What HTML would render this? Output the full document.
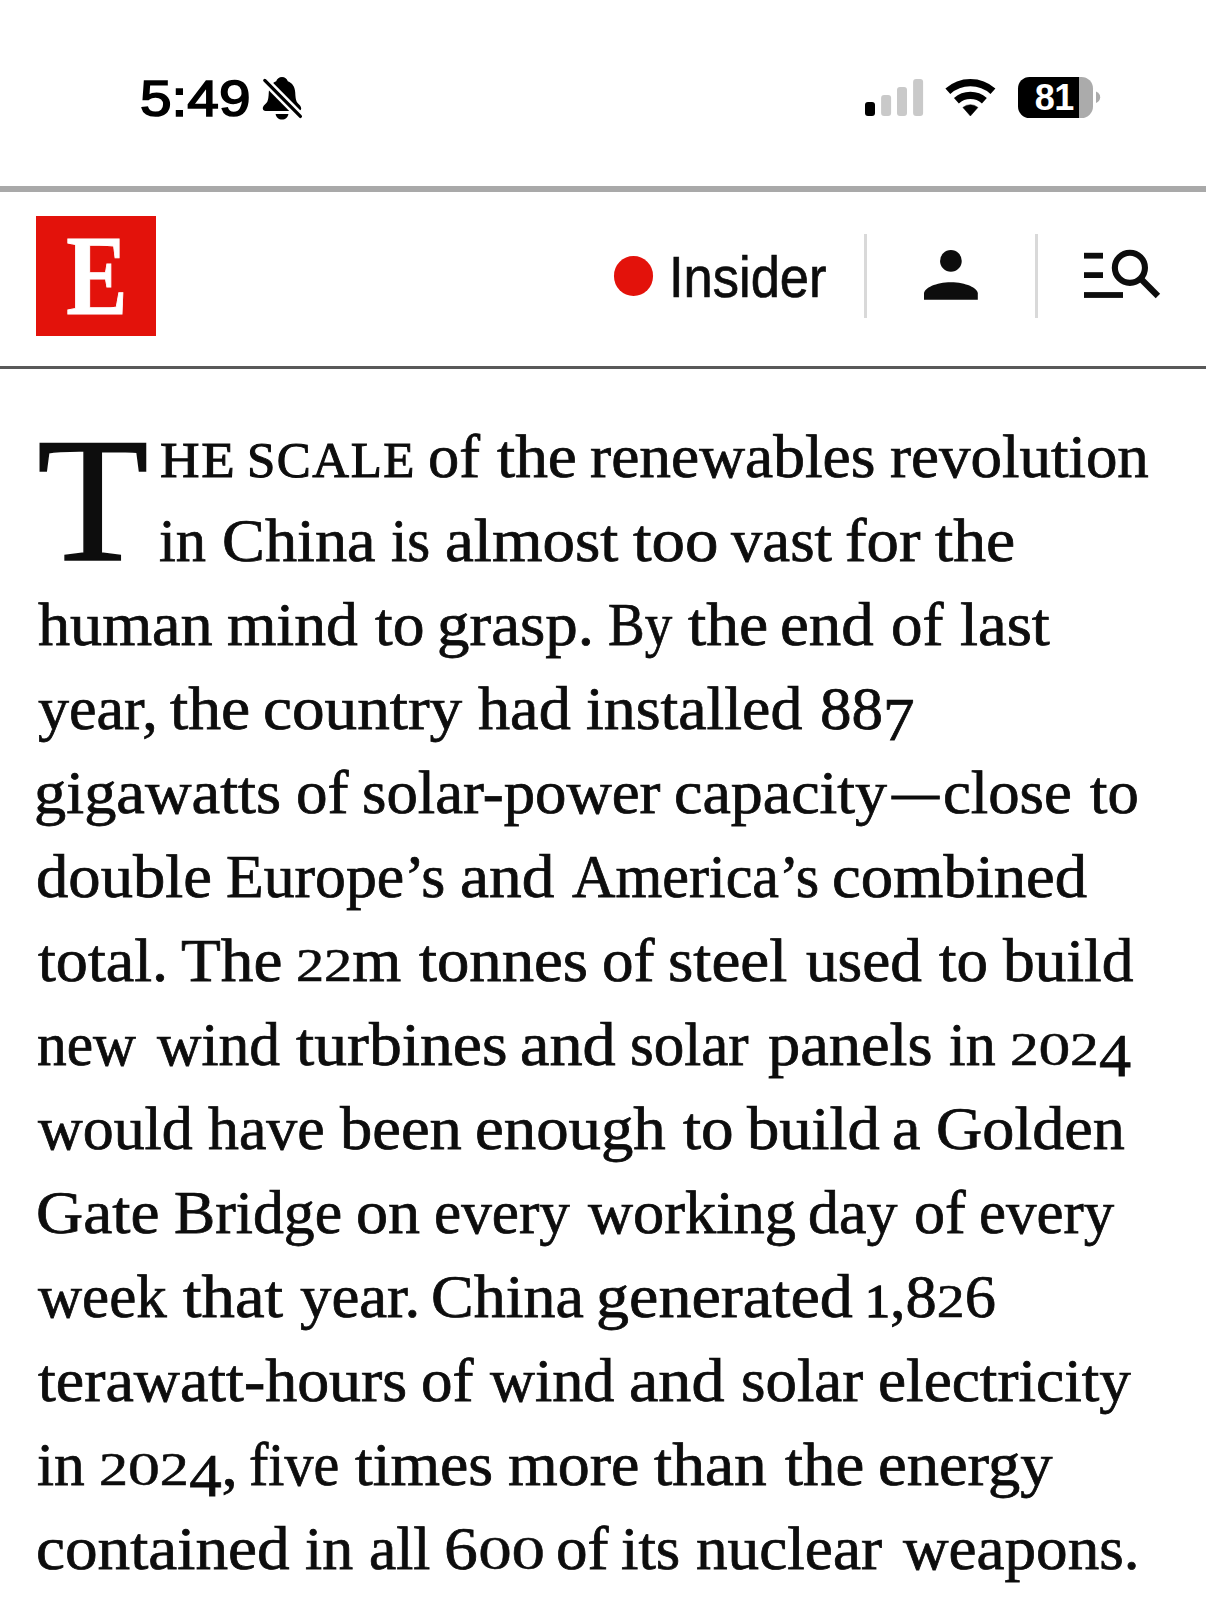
<!DOCTYPE html>
<html lang="en">
<head>
<meta charset="utf-8">
<meta name="viewport" content="width=1206">
<title>The Economist</title>
<style>
html,body{margin:0;padding:0;background:#fff;}
html{width:1206px;height:1604px;overflow:hidden;}
body{width:1206px;height:1604px;position:relative;overflow:hidden;font-family:"Liberation Sans",sans-serif;color:#0d0d0d;}
.abs{position:absolute;}
.time{position:absolute;left:139.5px;top:69px;font:49.6px/60px "Liberation Sans",sans-serif;color:#000;white-space:nowrap;transform-origin:0 50%;transform:scaleX(1.145);letter-spacing:0px;-webkit-text-stroke:1.6px #000;}
.rule1{position:absolute;left:0;top:186px;width:1206px;height:5.5px;background:#a9a9a9;}
.rule2{position:absolute;left:0;top:366px;width:1206px;height:3px;background:#595959;}
.logo{position:absolute;left:36px;top:216px;width:120px;height:120px;background:#e3120b;overflow:hidden;}
.logo span{position:absolute;left:0.8px;top:-0.3px;width:120px;height:120px;text-align:center;font:bold 115px/120px "Liberation Serif",serif;color:#fff;transform:scaleX(0.80);-webkit-text-stroke:1px #fff;transform-origin:50% 50%;}
.dot{position:absolute;left:614px;top:256.3px;width:39.4px;height:39.4px;border-radius:50%;background:#e3120b;}
.insider{position:absolute;left:668.5px;top:241.5px;font:58px/70px "Liberation Sans",sans-serif;color:#0d0d0d;white-space:nowrap;transform-origin:0 50%;transform:scaleX(0.905);-webkit-text-stroke:0.7px #0d0d0d;}
.vr{position:absolute;top:234px;width:3px;height:84px;background:#d9d9d9;}
.ln{position:absolute;left:0;width:1206px;height:80px;font:61px/80px "Liberation Serif",serif;color:#0d0d0d;white-space:pre;-webkit-text-stroke:0.75px #0d0d0d;}
.w{position:absolute;top:0;left:0;transform-origin:0 50%;white-space:pre;}
.o0{display:inline-block;font-size:46.5px;line-height:1;transform:scaleX(1.17);transform-origin:0 50%;margin-right:3.95px;-webkit-text-stroke:0.6px #0d0d0d;}
.o0.d0{transform:scaleX(1.3);margin-right:6.97px;-webkit-text-stroke:0.4px #0d0d0d;}
.o0.d1{transform:scaleX(1.05);margin-right:1.2px;-webkit-text-stroke:1.4px #0d0d0d;}
.o1{position:relative;top:11px;}
.w.nd{top:-1.3px;-webkit-text-stroke:1px #0d0d0d;}
.ln .sc{font-size:51px;top:3.4px;letter-spacing:1.5px;-webkit-text-stroke:1px #0d0d0d;}
.ln .drop{position:absolute;left:37.4px;top:-17.4px;font:178.6px/200px "Liberation Serif",serif;color:#0d0d0d;transform-origin:0 50%;-webkit-text-stroke:1.5px #0d0d0d;transform:scaleX(1.022);}
.batt{position:absolute;left:1018px;top:77px;width:75px;height:41px;border-radius:11.5px;background:linear-gradient(90deg,#000 0,#000 61px,#ababab 61px,#ababab 100%);}
.batt span{position:absolute;left:0;top:0.3px;width:55.8px;text-align:right;font:bold 36px/41px "Liberation Sans",sans-serif;color:#fff;letter-spacing:-0.5px;}
</style>
</head>
<body>
<!-- status bar -->
<div class="time">5:49</div>
<svg class="abs" style="left:255px;top:70px" width="56" height="56" viewBox="255 70 56 56">
  <path d="M282 76.9c-2.8 0-5 1.800-5.800 4.400c-4.600 1.800-7.100 5.600-7.400 11c-.2 4.200-.5 7.600-1.600 9.600c-.9 1.600-4.400 3.600-4.400 6.500c0 1.600 1.200 2.500 2.900 2.500h32.600c1.700 0 2.900-.9 2.900-2.500c0-2.900-3.500-4.900-4.400-6.500c-1.100-2-1.400-5.400-1.600-9.600c-.3-5.400-2.800-9.200-7.400-11c-.8-2.600-3-4.400-5.800-4.400z" fill="#000"/>
  <path d="M275.600 114h12.800c-.5 3.200-3 5.600-6.400 5.600s-5.900-2.400-6.400-5.600z" fill="#000"/>
  <line x1="264.8" y1="80.400" x2="300.400" y2="116.400" stroke="#fff" stroke-width="8.400" stroke-linecap="butt"/>
  <line x1="264.8" y1="80.400" x2="300.400" y2="116.400" stroke="#000" stroke-width="3.300" stroke-linecap="round"/>
</svg>
<svg class="abs" style="left:860px;top:70px" width="140" height="56" viewBox="860 70 140 56">
  <rect x="865" y="102.100" width="10" height="13.900" rx="3" fill="#000"/>
  <rect x="881.100" y="95.100" width="10" height="20.900" rx="3" fill="#c9c9c9"/>
  <rect x="897" y="87.100" width="10" height="28.900" rx="3" fill="#c9c9c9"/>
  <rect x="913.100" y="78.900" width="10" height="37.100" rx="3" fill="#c9c9c9"/>
  <g fill="none" stroke="#000" stroke-width="7.300">
    <path d="M947.850 91.260A33.700 33.700 0 0 1 992.950 91.260"/>
    <path d="M956.420 100.770A20.900 20.900 0 0 1 984.380 100.770"/>
  </g>
  <path d="M970.400 116L962.900 107.400A11.750 11.750 0 0 1 977.900 107.400Z" fill="#000" stroke="#000" stroke-width="0.500" stroke-linejoin="round"/>
</svg>
<div class="batt"><span>81</span></div>
<svg class="abs" style="left:1094px;top:88px" width="10" height="20" viewBox="1094 88 10 20">
  <path d="M1096 91.500c2.600 1 4.200 3.100 4.200 5.700s-1.600 4.700-4.200 5.700z" fill="#ababab"/>
</svg>

<!-- header -->
<div class="rule1"></div>
<div class="logo"><span>E</span></div>
<div class="dot"></div>
<div class="insider">Insider</div>
<div class="vr" style="left:864px"></div>
<svg class="abs" style="left:915px;top:245px" width="70" height="60" viewBox="915 245 70 60">
  <circle cx="950.900" cy="260.900" r="10.850" fill="#0d0d0d"/>
  <path d="M924 299.700V293.500C924 288 936 282.200 950.900 282.200C965.800 282.200 977.800 288 977.800 293.500V299.700Z" fill="#0d0d0d"/>
</svg>
<div class="vr" style="left:1035px"></div>
<svg class="abs" style="left:1078px;top:243px" width="90" height="62" viewBox="1078 243 90 62">
  <rect x="1084" y="252.800" width="19" height="5.800" fill="#0d0d0d"/>
  <rect x="1084" y="272.200" width="19" height="5.800" fill="#0d0d0d"/>
  <rect x="1084" y="292.100" width="39" height="5.800" fill="#0d0d0d"/>
  <circle cx="1129.900" cy="267.800" r="15.050" fill="none" stroke="#0d0d0d" stroke-width="6.100"/>
  <line x1="1141" y1="279" x2="1157.900" y2="295.900" stroke="#0d0d0d" stroke-width="6.300"/>
</svg>
<div class="rule2"></div>

<!-- article -->
<div class='ln' style='top:417.0px'><span class='drop'>T</span><span class='w sc a' style='left:159.56px;transform:scaleX(1.0745)'>HE </span><span class='w sc b' style='left:247.00px;transform:scaleX(0.9995)'>SCALE </span><span class='w a' style='left:428.46px;transform:scaleX(1.0237)'>of </span><span class='w b' style='left:496.77px;transform:scaleX(1.0721)'>the </span><span class='w a' style='left:590.46px;transform:scaleX(1.0402)'>renewables </span><span class='w b' style='left:889.97px;transform:scaleX(1.0324)'>revolution</span></div>
<div class='ln' style='top:501.0px'><span class='w a' style='left:159.46px;transform:scaleX(0.9910)'>in </span><span class='w b' style='left:222.24px;transform:scaleX(1.0541)'>China </span><span class='w a' style='left:391.39px;transform:scaleX(0.9658)'>is </span><span class='w b' style='left:445.37px;transform:scaleX(1.0659)'>almost </span><span class='w a' style='left:632.67px;transform:scaleX(1.0977)'>too </span><span class='w b' style='left:730.82px;transform:scaleX(1.0276)'>vast </span><span class='w a' style='left:844.64px;transform:scaleX(1.0606)'>for </span><span class='w b' style='left:935.27px;transform:scaleX(1.0774)'>the</span></div>
<div class='ln' style='top:585.0px'><span class='w a' style='left:37.70px;transform:scaleX(1.0523)'>human </span><span class='w b' style='left:227.46px;transform:scaleX(1.0432)'>mind </span><span class='w a' style='left:375.37px;transform:scaleX(1.0420)'>to </span><span class='w b' style='left:437.29px;transform:scaleX(1.0652)'>grasp. </span><span class='w a' style='left:607.88px;transform:scaleX(0.9009)'>By </span><span class='w b' style='left:687.72px;transform:scaleX(1.0774)'>the </span><span class='w a' style='left:780.18px;transform:scaleX(1.0630)'>end </span><span class='w b' style='left:890.87px;transform:scaleX(1.0334)'>of </span><span class='w a' style='left:959.94px;transform:scaleX(1.0606)'>last</span></div>
<div class='ln' style='top:669.0px'><span class='w a' style='left:37.93px;transform:scaleX(1.0166)'>year, </span><span class='w b' style='left:170.27px;transform:scaleX(1.0774)'>the </span><span class='w a' style='left:263.06px;transform:scaleX(1.0691)'>country </span><span class='w b' style='left:477.68px;transform:scaleX(1.0530)'>had </span><span class='w a' style='left:586.46px;transform:scaleX(1.0469)'>installed </span><span class='w b' style='left:819.82px;transform:scaleX(1.0333)'>88<span class='o1'>7</span></span></div>
<div class='ln' style='top:753.0px'><span class='w a' style='left:34.44px;transform:scaleX(1.0567)'>gigawatts </span><span class='w b' style='left:295.87px;transform:scaleX(1.0334)'>of </span><span class='w a' style='left:361.95px;transform:scaleX(1.0289)'>solar-power </span><span class='w b' style='left:674.25px;transform:scaleX(1.0484)'>capacity</span><span class='w nd a' style='left:891.99px;transform:scaleX(0.7710)'>—</span><span class='w b' style='left:943.43px;transform:scaleX(1.0281)'>close </span><span class='w a' style='left:1090.30px;transform:scaleX(1.0282)'>to</span></div>
<div class='ln' style='top:837.0px'><span class='w a' style='left:35.95px;transform:scaleX(1.0600)'>double </span><span class='w b' style='left:226.11px;transform:scaleX(1.0114)'>Europe’s </span><span class='w a' style='left:460.38px;transform:scaleX(1.0709)'>and </span><span class='w b' style='left:571.64px;transform:scaleX(0.9861)'>America’s </span><span class='w a' style='left:832.10px;transform:scaleX(1.0605)'>combined</span></div>
<div class='ln' style='top:921.0px'><span class='w a' style='left:37.54px;transform:scaleX(1.0517)'>total. </span><span class='w b' style='left:180.67px;transform:scaleX(1.0696)'>The </span><span class='w a' style='left:296.44px;transform:scaleX(1.0326)'><span class='o0 d2'>2</span><span class='o0 d2'>2</span>m </span><span class='w b' style='left:419.32px;transform:scaleX(1.0613)'>tonnes </span><span class='w a' style='left:602.37px;transform:scaleX(1.0334)'>of </span><span class='w b' style='left:668.44px;transform:scaleX(1.0672)'>steel </span><span class='w a' style='left:805.66px;transform:scaleX(1.0363)'>used </span><span class='w b' style='left:939.32px;transform:scaleX(1.0327)'>to </span><span class='w a' style='left:1003.34px;transform:scaleX(1.0401)'>build</span></div>
<div class='ln' style='top:1005.0px'><span class='w a' style='left:37.12px;transform:scaleX(0.9740)'>new </span><span class='w b' style='left:156.79px;transform:scaleX(1.0088)'>wind </span><span class='w a' style='left:296.28px;transform:scaleX(1.0764)'>turbines </span><span class='w b' style='left:520.32px;transform:scaleX(1.0871)'>and </span><span class='w a' style='left:630.21px;transform:scaleX(1.0010)'>solar </span><span class='w b' style='left:768.24px;transform:scaleX(1.0560)'>panels </span><span class='w a' style='left:949.02px;transform:scaleX(0.9812)'>in </span><span class='w b' style='left:1010.20px;transform:scaleX(1.0528)'><span class='o0 d2'>2</span><span class='o0 d0'>0</span><span class='o0 d2'>2</span><span class='o1'>4</span></span></div>
<div class='ln' style='top:1089.0px'><span class='w a' style='left:38.01px;transform:scaleX(1.0149)'>would </span><span class='w b' style='left:207.71px;transform:scaleX(1.0135)'>have </span><span class='w a' style='left:339.92px;transform:scaleX(1.0574)'>been </span><span class='w b' style='left:475.30px;transform:scaleX(1.0622)'>enough </span><span class='w a' style='left:682.79px;transform:scaleX(1.0680)'>to </span><span class='w b' style='left:746.92px;transform:scaleX(1.0589)'>build </span><span class='w a' style='left:891.90px;transform:scaleX(1.0523)'>a </span><span class='w b' style='left:935.75px;transform:scaleX(1.0514)'>Golden</span></div>
<div class='ln' style='top:1173.0px'><span class='w a' style='left:35.93px;transform:scaleX(1.0725)'>Gate </span><span class='w b' style='left:173.56px;transform:scaleX(1.0129)'>Bridge </span><span class='w a' style='left:355.77px;transform:scaleX(1.0497)'>on </span><span class='w b' style='left:434.36px;transform:scaleX(1.0031)'>every </span><span class='w a' style='left:588.32px;transform:scaleX(1.0228)'>working </span><span class='w b' style='left:807.97px;transform:scaleX(1.0144)'>day </span><span class='w a' style='left:913.53px;transform:scaleX(1.0171)'>of </span><span class='w b' style='left:979.43px;transform:scaleX(0.9972)'>every</span></div>
<div class='ln' style='top:1257.0px'><span class='w a' style='left:37.95px;transform:scaleX(1.0005)'>week </span><span class='w b' style='left:182.71px;transform:scaleX(1.0952)'>that </span><span class='w a' style='left:299.68px;transform:scaleX(1.0291)'>year. </span><span class='w b' style='left:430.85px;transform:scaleX(1.0487)'>China </span><span class='w a' style='left:595.94px;transform:scaleX(1.0834)'>generated </span><span class='w b' style='left:865.08px;transform:scaleX(1.0236)'><span class='o0 d1'>1</span>,8<span class='o0 d2'>2</span>6</span></div>
<div class='ln' style='top:1341.0px'><span class='w a' style='left:37.55px;transform:scaleX(1.0481)'>terawatt-hours </span><span class='w b' style='left:420.87px;transform:scaleX(1.0334)'>of </span><span class='w a' style='left:490.29px;transform:scaleX(1.0202)'>wind </span><span class='w b' style='left:628.83px;transform:scaleX(1.0839)'>and </span><span class='w a' style='left:740.84px;transform:scaleX(1.0303)'>solar </span><span class='w b' style='left:878.05px;transform:scaleX(1.0375)'>electricity</span></div>
<div class='ln' style='top:1425.0px'><span class='w a' style='left:37.21px;transform:scaleX(1.0054)'>in </span><span class='w b' style='left:98.60px;transform:scaleX(1.0654)'><span class='o0 d2'>2</span><span class='o0 d0'>0</span><span class='o0 d2'>2</span><span class='o1'>4</span>, </span><span class='w a' style='left:249.17px;transform:scaleX(0.9512)'>five </span><span class='w b' style='left:355.38px;transform:scaleX(1.0448)'>times </span><span class='w a' style='left:507.95px;transform:scaleX(1.0483)'>more </span><span class='w b' style='left:654.30px;transform:scaleX(1.0727)'>than </span><span class='w a' style='left:785.29px;transform:scaleX(1.0633)'>the </span><span class='w b' style='left:877.85px;transform:scaleX(1.0587)'>energy</span></div>
<div class='ln' style='top:1509.0px'><span class='w a' style='left:36.25px;transform:scaleX(1.0697)'>contained </span><span class='w b' style='left:304.99px;transform:scaleX(1.0143)'>in </span><span class='w a' style='left:368.59px;transform:scaleX(1.0080)'>all </span><span class='w b' style='left:443.62px;transform:scaleX(1.1080)'>6<span class='o0 d0'>0</span><span class='o0 d0'>0</span> </span><span class='w a' style='left:555.87px;transform:scaleX(1.0334)'>of </span><span class='w b' style='left:621.44px;transform:scaleX(1.0285)'>its </span><span class='w a' style='left:696.09px;transform:scaleX(1.0362)'>nuclear </span><span class='w b' style='left:903.32px;transform:scaleX(1.0342)'>weapons.</span></div>
</body>
</html>
